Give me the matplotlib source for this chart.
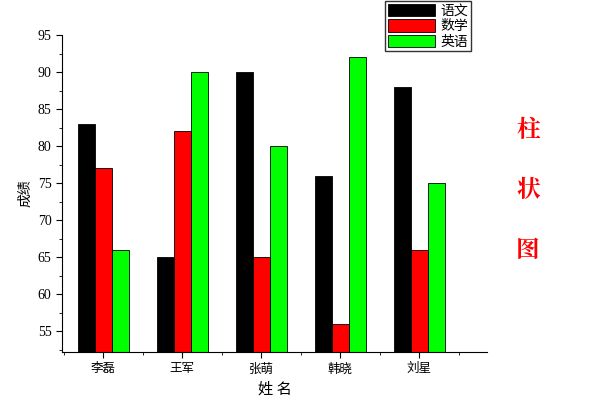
import matplotlib
matplotlib.use("Agg")
import matplotlib.pyplot as plt
import numpy as np
from matplotlib.ticker import MultipleLocator

plt.rcParams['font.family'] = ['Noto Sans CJK SC', 'DejaVu Sans']

names = ['李磊', '王军', '张萌', '韩晓', '刘星']
chinese = [83, 65, 90, 76, 88]
math = [77, 82, 65, 56, 66]
english = [66, 90, 80, 92, 75]
series_labels = ['语文', '数学', '英语']
colors = ['#000000', '#ff0000', '#00ff00']

fig = plt.figure(figsize=(6, 4), dpi=100)
ax = fig.add_axes([62/600, 1-352/400, 425/600, 317/400])
x = np.arange(len(names))
w = 0.215
for i, (vals, lab, c) in enumerate(zip([chinese, math, english], series_labels, colors)):
    ax.bar(x + (i-1)*w, vals, w, color=c, edgecolor='black', linewidth=0.6, label=lab)

ax.set_xlim(-0.52, 4.86)
ax.set_ylim(52.2, 95)
ax.spines['top'].set_visible(False)
ax.spines['right'].set_visible(False)
ax.yaxis.set_major_locator(MultipleLocator(5))
ax.yaxis.set_minor_locator(MultipleLocator(2.5))
ax.set_xticks(x)
ax.set_xticklabels(names, fontsize=9)
ax.set_xticks(np.arange(-0.5, 5, 1), minor=True)
ax.tick_params(axis='both', direction='out', length=4)
ax.tick_params(axis='both', which='minor', direction='out', length=2)
for t in ax.get_yticklabels():
    t.set_fontfamily('Liberation Serif')
    t.set_fontsize(10)
ax.set_ylabel('成绩', fontsize=10)
ax.set_xlabel('姓 名', fontsize=11)

fig.legend(loc='upper left', bbox_to_anchor=(385/600, 1-1/400), fontsize=10,
           frameon=True, fancybox=False, edgecolor='black', borderpad=0.2,
           labelspacing=0.1, handlelength=3.4, handleheight=1.0, handletextpad=0.4,
           borderaxespad=0)

for txt, yy in [('柱', 130), ('状', 190), ('图', 250)]:
    fig.text(528/600, 1-yy/400, txt, color='red', fontsize=17, fontweight='bold',
             family=['Noto Serif CJK SC', 'Noto Sans CJK SC'], ha='center', va='center')

fig.savefig('out.png', dpi=100)
